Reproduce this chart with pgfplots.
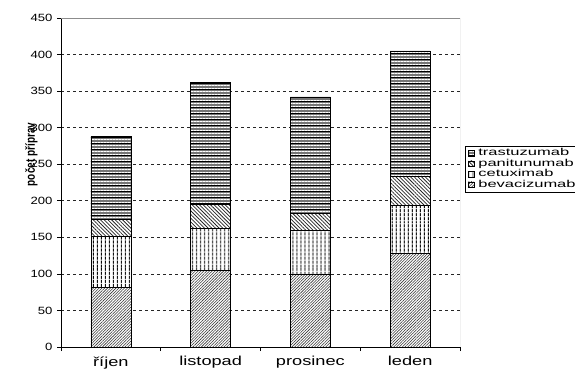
\documentclass[border=0pt]{standalone}
\usepackage{pgfplots}
\pgfplotsset{compat=1.18}
\usepackage{fontspec}
\setmainfont{Liberation Sans}
\newfontfamily\ytfont{Liberation Sans}[FakeStretch=1.25]
\newfontfamily\xtfont{Liberation Sans}[FakeStretch=1.4]
\newfontfamily\lgfont{Liberation Sans}[FakeStretch=1.65]
\usetikzlibrary{patterns,patterns.meta}
\definecolor{trgray}{RGB}{118,118,118}
\begin{document}
\begin{tikzpicture}
\begin{axis}[
  at={(0,0)}, anchor=south west,
  scale only axis, width=399pt, height=329pt,
  ybar stacked, bar width=40pt,
  xmin=-0.5, xmax=3.5, ymin=0, ymax=450,
  axis x line*=bottom, axis y line*=left,
  axis line style={black, line width=0.8pt},
  ytick={0,50,...,450},
  xtick={-0.5,0.5,1.5,2.5,3.5}, xticklabels={},
  extra x ticks={0,1,2,3},
  extra x tick labels={říjen,listopad,prosinec,leden},
  extra x tick style={major tick length=0pt},
  tick align=outside, major tick length=4pt,
  tick style={black, line width=0.6pt},
  ymajorgrids, grid style={black!85, dash pattern=on 3pt off 3pt, line width=0.7pt},
  /pgf/number format/assume math mode=true,
  yticklabel style={font=\ytfont\fontsize{10.5}{12}\selectfont, xshift=-1pt},
  xticklabel style={font=\xtfont\fontsize{13}{15}\selectfont, yshift=-6pt},
  ylabel={\scalebox{1}[1.3]{\bfseries počet příprav}},
  ylabel style={font=\fontsize{10}{12}\selectfont, at={(axis description cs:-0.074,0.585)}, anchor=center},
  legend style={at={(axis description cs:1.0125,0.61)}, anchor=north west,
    draw=black, line width=0.8pt, font=\lgfont\fontsize{10}{10}\selectfont,
    inner xsep=3pt, inner ysep=3pt, row sep=2.5pt,
    nodes={inner sep=0pt, text height=6.2pt, text depth=1.8pt}},
  legend cell align=left,
  reverse legend,
  legend image code/.code={\draw[#1, line width=0.5pt] (0pt,-2.3pt) rectangle (5.5pt,3.3pt);},
]
\addplot[fill=white, draw=black, line width=0.6pt,
  postaction={pattern={Lines[angle=45,distance=2pt,line width=0.55pt]}, pattern color=black!80}]
  coordinates {(0,82) (1,105) (2,100) (3,128)};
\addlegendentry{\hspace{4pt}bevacizumab}
\addplot[fill=white, draw=black, line width=0.6pt,
  postaction={pattern={Lines[angle=90,distance=4pt,line width=1pt]}, pattern color=black}]
  coordinates {(0,70) (1,57) (2,59) (3,66)};
\addlegendentry{\hspace{4pt}cetuximab}
\addplot[fill=white, draw=black, line width=0.6pt,
  postaction={pattern={Lines[angle=-45,distance=2.6pt,line width=0.75pt]}, pattern color=black!85}]
  coordinates {(0,23) (1,33) (2,24) (3,39)};
\addlegendentry{\hspace{4pt}panitunumab}
\addplot[fill=trgray, draw=black, line width=0.6pt,
  postaction={pattern={Lines[angle=0,distance=3pt,line width=0.7pt]}, pattern color=white},
  postaction={pattern={Lines[angle=0,distance=6pt,line width=0.6pt,yshift=1.5pt]}, pattern color=black}]
  coordinates {(0,113) (1,167) (2,159) (3,172)};
\addlegendentry{\hspace{4pt}trastuzumab}
\draw[black!45, line width=0.8pt] (rel axis cs:0,1) -- (rel axis cs:1,1) -- (rel axis cs:1,0);
\end{axis}
\pgfresetboundingbox
\useasboundingbox (-61pt,-26pt) rectangle (514pt,347pt);
\end{tikzpicture}
\end{document}
